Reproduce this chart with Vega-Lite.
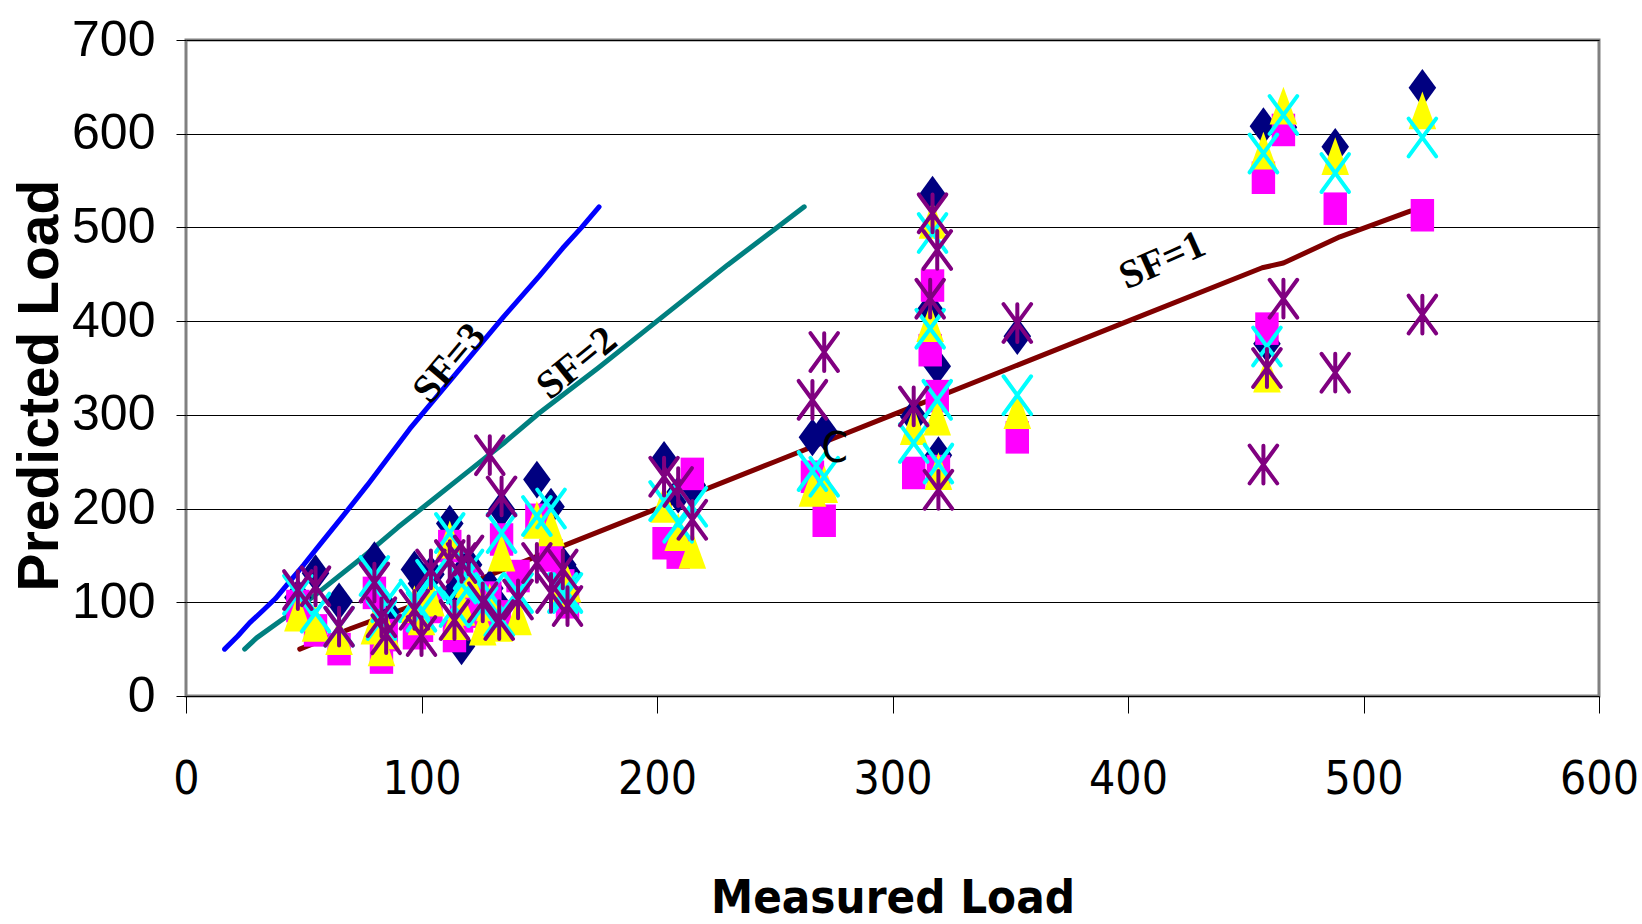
{
  "$schema": "https://vega.github.io/schema/vega-lite/v6.json",
  "width": 1413,
  "height": 656,
  "autosize": {"type": "none"},
  "padding": {"left": 186, "top": 40, "right": 43, "bottom": 228},
  "background": "white",
  "config": {
    "view": {"stroke": "#808080", "strokeWidth": 3}
  },
  "datasets": {
    "pts": [
      {"m": 47.5, "s1": 105, "s2": 96, "s3": 89, "s4": 108, "s5": 113},
      {"m": 55, "s1": 131, "s2": 70, "s3": 78, "s4": 89, "s5": 117},
      {"m": 65, "s1": 101, "s2": 50, "s3": 64, "s4": 74, "s5": 74},
      {"m": 80, "s1": 145, "s2": 110, "s3": 75, "s4": 128, "s5": 121},
      {"m": 83, "s1": 100, "s2": 41, "s3": 52, "s4": 81, "s5": 84},
      {"m": 85, "s1": 90, "s2": 65, "s3": 70, "s4": 100, "s5": 66},
      {"m": 97, "s1": 135, "s2": 67, "s3": 98, "s4": 103, "s5": 92},
      {"m": 100, "s1": 120, "s2": 75, "s3": 85, "s4": 90, "s5": 64},
      {"m": 104, "s1": 130, "s2": 95, "s3": 105, "s4": 124, "s5": 135},
      {"m": 112, "s1": 184, "s2": 160, "s3": 167, "s4": 174, "s5": 145},
      {"m": 114, "s1": 110, "s2": 64, "s3": 80, "s4": 95, "s5": 81},
      {"m": 117, "s1": 53, "s2": 85, "s3": 95, "s4": 120, "s5": 142},
      {"m": 120, "s1": 140, "s2": 120, "s3": 125, "s4": 135, "s5": 150},
      {"m": 126, "s1": 105, "s2": 90, "s3": 74, "s4": 95, "s5": 100},
      {"m": 129, "s1": 115, "s2": 105, "s3": 100, "s4": 110, "s5": 257},
      {"m": 134, "s1": 199, "s2": 167, "s3": 153, "s4": 174, "s5": 213},
      {"m": 133, "s1": 95, "s2": 85, "s3": 78, "s4": 85, "s5": 81},
      {"m": 141, "s1": 120, "s2": 128, "s3": 85, "s4": 110, "s5": 103},
      {"m": 149, "s1": 231, "s2": 188, "s3": 188, "s4": 192, "s5": 142},
      {"m": 155, "s1": 202, "s2": 150, "s3": 180, "s4": 200, "s5": 110},
      {"m": 160, "s1": 140, "s2": 118, "s3": 115, "s4": 110, "s5": 135},
      {"m": 162, "s1": 131, "s2": 100, "s3": 120, "s4": 110, "s5": 96},
      {"m": 203, "s1": 252, "s2": 163, "s3": 205, "s4": 208, "s5": 234},
      {"m": 209, "s1": 215, "s2": 153, "s3": 175, "s4": 185, "s5": 223},
      {"m": 215, "s1": 225, "s2": 237, "s3": 156, "s4": 202, "s5": 188},
      {"m": 266, "s1": 276, "s2": 234, "s3": 222, "s4": 240, "s5": 316},
      {"m": 271, "s1": 282, "s2": 187, "s3": 226, "s4": 234, "s5": 367},
      {"m": 309, "s1": 298, "s2": 238, "s3": 288, "s4": 270, "s5": 309},
      {"m": 317, "s1": 535, "s2": 438, "s3": 508, "s4": 494, "s5": 515},
      {"m": 316, "s1": 412, "s2": 369, "s3": 398, "s4": 392, "s5": 424},
      {"m": 319, "s1": 352, "s2": 320, "s3": 298, "s4": 316, "s5": 476},
      {"m": 319.5, "s1": 257, "s2": 240, "s3": 240, "s4": 248, "s5": 220},
      {"m": 353, "s1": 384, "s2": 276, "s3": 305, "s4": 321, "s5": 398},
      {"m": 457.5, "s1": 608, "s2": 553, "s3": 582, "s4": 579, "s5": 247},
      {"m": 459, "s1": 376, "s2": 392, "s3": 344, "s4": 373, "s5": 350},
      {"m": 466, "s1": 607, "s2": 604, "s3": 630, "s4": 620, "s5": 424},
      {"m": 488, "s1": 586, "s2": 520, "s3": 576, "s4": 558, "s5": 345},
      {"m": 525, "s1": 649, "s2": 513, "s3": 625, "s4": 596, "s5": 407}
    ],
    "lines": [
      {"m": 16.4, "p": 50, "sf": "SF=3"}, {"m": 22, "p": 64, "sf": "SF=3"}, {"m": 27, "p": 78, "sf": "SF=3"},
      {"m": 33, "p": 92, "sf": "SF=3"}, {"m": 38, "p": 104, "sf": "SF=3"}, {"m": 44, "p": 122, "sf": "SF=3"},
      {"m": 50, "p": 140, "sf": "SF=3"}, {"m": 57, "p": 162, "sf": "SF=3"}, {"m": 66, "p": 190, "sf": "SF=3"},
      {"m": 77, "p": 225, "sf": "SF=3"}, {"m": 95, "p": 285, "sf": "SF=3"}, {"m": 115, "p": 345, "sf": "SF=3"},
      {"m": 135, "p": 405, "sf": "SF=3"}, {"m": 150, "p": 448, "sf": "SF=3"}, {"m": 160, "p": 478, "sf": "SF=3"},
      {"m": 168, "p": 500, "sf": "SF=3"}, {"m": 175.4, "p": 522, "sf": "SF=3"},
      {"m": 24.9, "p": 50, "sf": "SF=2"}, {"m": 30, "p": 62, "sf": "SF=2"}, {"m": 40, "p": 80, "sf": "SF=2"},
      {"m": 50, "p": 98, "sf": "SF=2"}, {"m": 60, "p": 118, "sf": "SF=2"}, {"m": 75, "p": 148, "sf": "SF=2"},
      {"m": 90, "p": 180, "sf": "SF=2"}, {"m": 105, "p": 210, "sf": "SF=2"}, {"m": 120, "p": 240, "sf": "SF=2"},
      {"m": 135, "p": 270, "sf": "SF=2"}, {"m": 150, "p": 302, "sf": "SF=2"}, {"m": 175, "p": 350, "sf": "SF=2"},
      {"m": 200, "p": 400, "sf": "SF=2"}, {"m": 230, "p": 460, "sf": "SF=2"}, {"m": 250, "p": 498, "sf": "SF=2"},
      {"m": 262.5, "p": 522, "sf": "SF=2"},
      {"m": 48.3, "p": 50, "sf": "SF=1"}, {"m": 70, "p": 72, "sf": "SF=1"}, {"m": 100, "p": 100, "sf": "SF=1"},
      {"m": 150, "p": 150, "sf": "SF=1"}, {"m": 200, "p": 200, "sf": "SF=1"}, {"m": 250, "p": 250, "sf": "SF=1"},
      {"m": 300, "p": 300, "sf": "SF=1"}, {"m": 350, "p": 350, "sf": "SF=1"}, {"m": 400, "p": 400, "sf": "SF=1"},
      {"m": 457, "p": 457, "sf": "SF=1"}, {"m": 466, "p": 462, "sf": "SF=1"}, {"m": 490, "p": 490, "sf": "SF=1"},
      {"m": 519.8, "p": 517.5, "sf": "SF=1"}
    ]
  },
  "encoding": {
    "x": {
      "field": "m", "type": "quantitative", "title": "Measured Load",
      "scale": {"domain": [0, 600], "nice": false, "zero": true},
      "axis": {
        "values": [0, 100, 200, 300, 400, 500, 600],
        "grid": false, "domain": false, "ticks": true, "tickColor": "black", "tickSize": 17, "tickWidth": 1,
        "labelFont": "DejaVu Sans Condensed, Liberation Sans, sans-serif", "labelFontSize": 46, "labelColor": "black", "labelPadding": 44,
        "labelFlush": false, "labelOverlap": false,
        "titleFont": "DejaVu Sans Condensed, Liberation Sans, sans-serif", "titleFontWeight": "bold", "titleFontSize": 47, "titleColor": "black",
        "titleBaseline": "alphabetic", "titleY": 216
      }
    },
    "y": {
      "field": "p", "type": "quantitative", "title": "Predicted Load",
      "scale": {"domain": [0, 700], "nice": false, "zero": true},
      "axis": {
        "values": [0, 100, 200, 300, 400, 500, 600, 700],
        "grid": true, "gridColor": "black", "gridWidth": 1, "gridOpacity": 1, "domain": false,
        "ticks": true, "tickColor": "black", "tickSize": 10, "tickWidth": 1,
        "labelFont": "Liberation Sans, Arial, sans-serif", "labelFontSize": 50, "labelColor": "black", "labelPadding": 21,
        "labelFlush": false, "labelOverlap": false,
        "titleFont": "Liberation Sans, Arial, sans-serif", "titleFontWeight": "bold", "titleFontSize": 57, "titleColor": "black",
        "titleAngle": 270, "titleBaseline": "alphabetic", "titleAlign": "center", "titleX": -129, "titleY": 345
      }
    }
  },
  "layer": [
    {
      "data": {"name": "lines"},
      "mark": {"type": "line", "strokeWidth": 5, "strokeCap": "round", "strokeJoin": "round"},
      "encoding": {
        "color": {"field": "sf", "type": "nominal", "scale": {"domain": ["SF=1", "SF=2", "SF=3"], "range": ["#800000", "#008080", "#0000ff"]}, "legend": null}
      }
    },
    {
      "data": {"name": "pts"},
      "transform": [{"fold": ["s1", "s2", "s3", "s4", "s5"], "as": ["series", "p"]}],
      "mark": {"type": "point", "filled": true, "opacity": 1, "fillOpacity": 1, "strokeOpacity": 1, "size": 760, "strokeWidth": 4, "strokeCap": "round"},
      "encoding": {
        "shape": {"field": "series", "type": "nominal", "legend": null, "scale": {"domain": ["s1", "s2", "s3", "s4", "s5"], "range": [
          "M0,-1.37L1,0L0,1.37L-1,0Z",
          "M-0.85,-1.18L0.85,-1.18L0.85,1.18L-0.85,1.18Z",
          "M0,-1.37L1,1.37L-1,1.37Z",
          "M-1,-1.37L1,1.37M1,-1.37L-1,1.37",
          "M-1,-1.37L1,1.37M1,-1.37L-1,1.37M0,-1.37L0,1.37"
        ]}},
        "fill": {"field": "series", "type": "nominal", "legend": null, "scale": {"domain": ["s1", "s2", "s3", "s4", "s5"], "range": ["#000080", "#ff00ff", "#ffff00", "transparent", "transparent"]}},
        "stroke": {"field": "series", "type": "nominal", "legend": null, "scale": {"domain": ["s1", "s2", "s3", "s4", "s5"], "range": ["transparent", "transparent", "transparent", "#00ffff", "#800080"]}},
        "order": {"field": "series", "type": "ordinal"}
      }
    },
    {
      "data": {"values": [{"m": 112, "p": 355, "t": "SF=3"}]},
      "mark": {"type": "text", "angle": 310, "font": "Liberation Serif, serif", "fontWeight": "bold", "fontSize": 40, "align": "center", "baseline": "middle", "color": "black"},
      "encoding": {"text": {"field": "t"}}
    },
    {
      "data": {"values": [{"m": 166, "p": 355, "t": "SF=2"}]},
      "mark": {"type": "text", "angle": 321, "font": "Liberation Serif, serif", "fontWeight": "bold", "fontSize": 40, "align": "center", "baseline": "middle", "color": "black"},
      "encoding": {"text": {"field": "t"}}
    },
    {
      "data": {"values": [{"m": 414.6, "p": 464.5, "t": "SF=1"}]},
      "mark": {"type": "text", "angle": 336, "font": "Liberation Serif, serif", "fontWeight": "bold", "fontSize": 40, "align": "center", "baseline": "middle", "color": "black"},
      "encoding": {"text": {"field": "t"}}
    },
    {
      "data": {"values": [{"m": 275.5, "p": 263.5, "t": "C"}]},
      "mark": {"type": "text", "font": "DejaVu Sans Condensed, Liberation Sans, sans-serif", "fontSize": 42, "align": "center", "baseline": "middle", "color": "black"},
      "encoding": {"text": {"field": "t"}}
    }
  ],
  "resolve": {"scale": {"color": "independent", "fill": "independent", "stroke": "independent", "shape": "independent"}}
}
